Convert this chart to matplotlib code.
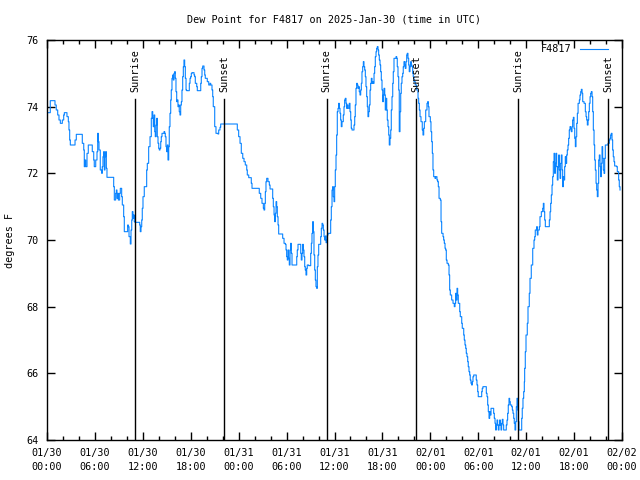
import matplotlib
matplotlib.use('Agg')
import matplotlib.pyplot as plt

# dew point readings, hours since 2025-01-30 00:00 UTC
hours = [
    0.16, 0.41, 0.41, 0.91, 1.00, 1.16, 1.34, 1.50, 1.67, 1.84, 1.92, 2.09, 2.17, 2.42, 2.50, 2.67,
    2.75, 2.84, 2.92, 3.42, 3.51, 3.67, 4.35, 4.42, 4.60, 4.67, 4.76, 4.85, 5.01, 5.17, 5.60, 5.67,
    5.85, 5.92, 6.10, 6.26, 6.35, 6.42, 6.51, 6.67, 6.85, 6.92, 7.01, 7.10, 7.18, 7.26, 7.35, 7.43,
    7.51, 8.26, 8.35, 8.43, 8.60, 8.68, 8.76, 8.85, 8.93, 9.10, 9.18, 9.35, 9.43, 9.60, 9.68, 10.02,
    10.10, 10.18, 10.27, 10.43, 10.52, 10.61, 10.68, 10.77, 10.85, 10.93, 11.02, 11.43, 11.61, 11.68,
    11.77, 11.86, 11.93, 12.02, 12.18,
    12.48, 12.56, 12.73, 12.90, 13.06, 13.15, 13.24, 13.31, 13.40, 13.49, 13.56, 13.65, 13.74, 13.81,
    13.90, 13.99, 14.06, 14.15, 14.24, 14.31, 14.40, 14.65, 14.74, 14.81, 14.90, 14.99, 15.06, 15.15,
    15.24, 15.31, 15.40, 15.49, 15.56, 15.65, 15.74, 15.81, 15.90, 15.99, 16.06, 16.15, 16.24, 16.31,
    16.40, 16.49, 16.56, 16.65, 16.74, 16.82, 16.90, 16.99, 17.07, 17.15, 17.24, 17.32, 17.41, 17.49,
    17.74, 17.82, 17.91, 17.99, 18.07, 18.16, 18.32, 18.41, 18.49, 18.57, 18.75, 18.82, 19.16, 19.25,
    19.32, 19.41, 19.50, 19.57, 19.66, 19.75, 19.82, 20.00, 20.07, 20.25, 20.41, 20.50, 20.66, 20.75,
    20.82, 21.00, 21.16, 21.41, 21.50, 21.66, 21.75, 23.75, 23.83, 24.00,
    24.17, 24.33, 24.51, 24.67, 24.83, 25.01, 25.08, 25.26, 25.51, 25.58, 25.67, 26.42, 26.58, 26.76,
    26.92, 27.09, 27.17, 27.26, 27.34, 27.42, 27.51, 27.67, 27.84, 27.93, 28.18, 28.26, 28.34, 28.43,
    28.51, 28.59, 28.68, 28.76, 28.84, 28.93, 29.01, 29.43, 29.51, 29.68, 29.84, 29.93, 30.01, 30.09,
    30.18, 30.26, 30.34, 30.43, 30.51, 30.59, 30.68, 31.18, 31.27, 31.34, 31.43, 31.68, 31.77, 31.84,
    31.93, 32.02, 32.09, 32.18, 32.27, 32.34, 32.43, 32.52, 32.59, 32.77, 32.93, 33.02, 33.10, 33.18,
    33.27, 33.35, 33.43, 33.52, 33.60, 33.68, 33.77, 33.85, 33.93, 34.02, 34.19, 34.27, 34.35, 34.44,
    34.52, 34.60, 34.69, 34.77, 34.85, 34.94, 35.02, 35.10, 35.19, 35.44, 35.52, 35.60, 35.69, 35.77,
    35.85, 35.94, 36.02, 36.10, 36.19, 36.27, 36.35, 36.44, 36.52,
    36.60, 36.69, 36.77, 36.85, 36.94, 37.10, 37.19, 37.27, 37.35, 37.44, 37.52, 37.60, 37.69, 37.85,
    37.94, 38.03, 38.10, 38.19, 38.35, 38.44, 38.53, 38.60, 38.69, 38.78, 38.85, 38.94, 39.03, 39.10,
    39.19, 39.28, 39.36, 39.44, 39.53, 39.61, 39.69, 39.78, 39.86, 39.94, 40.03, 40.11, 40.19, 40.28,
    40.36, 40.45, 40.53, 40.61, 40.70, 40.78, 40.86, 40.95, 41.03, 41.11, 41.20, 41.28, 41.36, 41.45,
    41.53, 41.61, 41.70, 41.78, 41.86, 41.95, 42.04, 42.11, 42.20, 42.29, 42.36, 42.45, 42.54, 42.61,
    42.70, 42.79, 42.86, 42.95, 43.04, 43.11, 43.20, 43.29, 43.36, 43.45, 43.61, 43.70, 43.79, 43.86,
    43.95, 44.04, 44.11, 44.20, 44.29, 44.36, 44.45, 44.54, 44.61, 44.70, 44.79, 44.86, 44.95, 45.04,
    45.11, 45.20, 45.29, 45.36, 45.45, 45.54, 45.61, 45.70, 45.79, 45.86, 45.95, 46.11, 46.29, 46.46,
    46.54, 46.62, 46.71,
    46.83, 46.99, 47.08, 47.17, 47.25, 47.42, 47.58, 47.67, 47.75, 47.83, 48.00, 48.08, 48.17, 48.25,
    48.33, 48.42, 48.58, 48.67, 48.83, 48.92, 49.00, 49.09, 49.25, 49.34, 49.42, 49.59, 49.67, 49.75,
    49.84, 49.92, 50.00, 50.09, 50.25, 50.34, 50.42, 50.50, 50.67, 50.84, 51.00, 51.09, 51.17, 51.25,
    51.34, 51.42, 51.50, 51.68, 51.75, 51.93, 52.00, 52.18, 52.25, 52.34, 52.43, 52.50, 52.59, 52.68,
    52.75, 52.84, 52.93, 53.00, 53.09, 53.18, 53.25, 53.34, 53.43, 53.68, 53.75, 53.84, 53.93, 54.00,
    54.34, 54.43, 54.50, 54.59, 54.93, 55.01, 55.10, 55.18, 55.26, 55.35, 55.43, 55.51, 55.60, 55.85,
    55.93, 56.01, 56.10, 56.18, 56.26, 56.35, 56.43, 56.51, 56.60, 56.68, 56.76, 56.85, 56.93, 57.01,
    57.10, 57.18, 57.43, 57.51, 57.60, 57.68, 57.76, 57.85, 57.93, 58.01, 58.19, 58.27, 58.35, 58.44,
    58.51, 58.60, 58.69, 58.77, 58.85, 58.94, 59.01, 59.10, 59.35, 59.44, 59.51, 59.60, 59.69, 59.77,
    59.81, 59.89, 59.98, 60.14, 60.23, 60.39, 60.48, 60.64, 60.82, 60.98, 61.07, 61.14, 61.32, 61.39,
    61.48, 61.65, 61.73, 61.90, 62.07, 62.15, 62.23, 62.32, 62.40, 62.82, 62.90, 62.99, 63.07, 63.15,
    63.24, 63.32, 63.40, 63.49, 63.57, 63.65, 63.74, 63.82, 63.90, 63.99, 64.07, 64.15, 64.24, 64.32,
    64.40, 64.49, 64.57, 64.65, 64.74, 64.82, 64.90, 64.99, 65.07, 65.15, 65.24, 65.32, 65.40, 65.49,
    65.57, 65.65, 65.74, 65.82, 65.91, 65.99, 66.08, 66.16, 66.24, 66.33, 66.41, 66.50, 66.66, 66.74,
    66.83, 66.91, 67.00, 67.08, 67.25, 67.41, 67.50, 67.58, 67.66, 67.75, 67.83, 67.91, 68.00, 68.08,
    68.16, 68.25, 68.33, 68.41, 68.50, 68.58, 68.66, 68.75, 68.83, 68.91, 69.00, 69.08, 69.16, 69.25,
    69.33, 69.41, 69.50, 69.58, 69.66, 69.75, 69.83, 69.91, 70.16, 70.25, 70.41, 70.50, 70.58, 70.66,
    70.75, 70.83, 70.91, 71.00, 71.08, 71.33, 71.41, 71.58, 71.66, 71.75,
]
dewpoint = [
    73.82, 74.05, 74.18, 74.18, 74.05, 73.90, 73.75, 73.60, 73.50, 73.50, 73.60, 73.75, 73.82, 73.82, 73.70, 73.55,
    73.30, 73.00, 72.85, 72.85, 73.00, 73.17, 73.17, 72.90, 72.70, 72.20, 72.40, 72.20, 72.60, 72.85, 72.85, 72.65,
    72.40, 72.20, 72.40, 72.65, 73.20, 72.95, 72.70, 72.10, 72.00, 72.20, 72.50, 72.65, 72.10, 72.50, 72.65, 72.15,
    71.88, 71.88, 71.60, 71.20, 71.40, 71.50, 71.25, 71.40, 71.20, 71.40, 71.55, 71.30, 71.05, 70.70, 70.25, 70.25,
    70.45, 70.40, 70.10, 69.88, 70.30, 70.60, 70.85, 70.65, 70.75, 70.55, 70.53, 70.53, 70.45, 70.25,
    70.40, 70.60, 70.95, 71.30, 71.60,
    72.10, 72.30, 72.80, 73.10, 73.65, 73.85, 73.65, 73.40, 73.75, 73.25, 73.10, 73.45, 73.65, 73.10,
    72.90, 72.75, 72.70, 72.75, 72.95, 73.10, 73.20, 73.25, 73.20, 73.10, 72.80, 72.65, 72.85, 72.40,
    72.80, 73.40, 73.80, 74.20, 74.50, 74.85, 74.95, 74.80, 75.00, 75.05, 74.85, 74.45, 74.15, 74.20,
    74.00, 74.05, 73.85, 73.75, 74.05, 74.15, 74.50, 74.90, 75.20, 75.40, 75.20, 74.85, 74.50, 74.48,
    74.48, 74.70, 74.85, 74.90, 75.00, 75.02, 75.02, 74.95, 74.90, 74.70, 74.60, 74.48, 74.48, 74.70,
    74.90, 75.15, 75.22, 75.22, 75.10, 74.95, 74.85, 74.85, 74.75, 74.65, 74.70, 74.65, 74.50, 74.30,
    74.00, 73.40, 73.20, 73.18, 73.30, 73.38, 73.48, 73.48, 73.30, 73.10,
    72.90, 72.60, 72.45, 72.35, 72.25, 72.10, 71.95, 71.87, 71.87, 71.70, 71.55, 71.55, 71.40, 71.25,
    71.10, 70.95, 70.90, 71.10, 71.45, 71.75, 71.85, 71.75, 71.65, 71.53, 71.53, 71.25, 71.00, 70.75,
    70.55, 70.80, 71.15, 71.00, 70.70, 70.45, 70.18, 70.18, 70.05, 69.90, 69.87, 69.70, 69.50, 69.40,
    69.70, 69.45, 69.25, 69.70, 69.90, 69.60, 69.25, 69.25, 69.50, 69.70, 69.87, 69.87, 69.60, 69.40,
    69.60, 69.87, 69.70, 69.50, 69.20, 69.10, 68.95, 69.15, 69.25, 69.23, 69.23, 69.60, 69.90, 70.20,
    70.55, 70.25, 69.55, 69.10, 68.80, 68.60, 68.55, 69.20, 69.55, 69.87, 69.87, 70.10, 70.35, 70.50,
    70.45, 70.30, 70.10, 70.00, 70.12, 69.92, 70.00, 70.15, 70.20, 70.20, 70.60, 71.00, 71.50, 71.60,
    71.30, 71.15, 71.60, 72.10, 72.55, 73.15, 73.85, 73.95, 74.10,
    73.95, 73.80, 73.60, 73.40, 73.55, 73.75, 74.00, 74.20, 74.25, 74.10, 73.95, 74.05, 73.95, 74.10,
    73.85, 73.60, 73.35, 73.30, 73.30, 73.45, 73.70, 74.05, 74.55, 74.70, 74.65, 74.55, 74.60, 74.45,
    74.35, 74.50, 74.70, 75.05, 75.20, 75.35, 75.20, 75.10, 74.90, 74.60, 74.30, 74.00, 73.70, 73.85,
    74.05, 74.50, 74.70, 74.85, 74.70, 74.75, 74.70, 75.00, 75.20, 75.50, 75.65, 75.75, 75.80, 75.70,
    75.55, 75.40, 75.25, 75.05, 74.80, 74.50, 74.15, 74.35, 74.55, 74.35, 73.90, 74.25, 73.90, 73.60,
    73.40, 73.15, 72.85, 73.05, 73.30, 73.90, 74.30, 74.70, 75.05, 75.45, 75.45, 75.50, 75.45, 75.20,
    74.90, 74.50, 73.25, 73.85, 74.40, 74.70, 74.90, 75.00, 75.20, 75.35, 75.25, 75.15, 75.35, 75.55,
    75.60, 75.45, 75.25, 75.05, 75.20, 75.35, 75.25, 75.20, 75.00, 74.90, 74.75, 74.65, 74.50, 74.25,
    74.10, 73.90, 73.70,
    73.55, 73.30, 73.15, 73.35, 73.55, 73.90, 74.10, 74.15, 74.00, 73.70, 73.55, 73.25, 72.95, 72.60,
    72.10, 71.90, 71.85, 71.90, 71.80, 71.75, 71.60, 71.25, 71.20, 70.55, 70.20, 70.10, 70.00, 69.90,
    69.75, 69.70, 69.40, 69.30, 69.25, 68.95, 68.50, 68.35, 68.20, 68.10, 68.00, 68.10, 68.40, 68.20,
    68.55, 68.35, 68.10, 67.85, 67.70, 67.50, 67.35, 67.15, 67.00, 66.85, 66.75, 66.60, 66.50, 66.35,
    66.20, 66.05, 65.95, 65.80, 65.70, 65.65, 65.75, 65.90, 65.95, 65.95, 65.80, 65.65, 65.45, 65.30,
    65.30, 65.45, 65.55, 65.60, 65.60, 65.40, 65.30, 65.05, 64.85, 64.65, 64.85, 64.75, 64.95, 64.95,
    64.80, 64.65, 64.50, 64.30, 64.45, 64.60, 64.45, 64.30, 64.45, 64.60, 64.45, 64.30, 64.50, 64.62,
    64.45, 64.30, 64.30, 64.45, 64.60, 64.80, 65.05, 65.25, 65.15, 65.05, 65.00, 64.90, 64.80, 64.65,
    64.50, 64.30, 64.55, 65.00, 65.25, 64.90, 64.55, 64.30, 64.30, 64.65, 64.95, 65.25, 65.45, 65.75,
    66.15, 66.65, 67.15, 67.50, 68.00, 68.40, 68.85, 69.25, 69.75, 70.00, 70.10, 70.30, 70.40, 70.15,
    70.30, 70.40, 70.70, 70.85, 70.95, 71.10, 70.85, 70.60, 70.40, 70.40, 70.60, 70.85, 71.10, 71.35,
    71.65, 71.90, 72.35, 72.60, 72.00, 72.30, 72.60, 72.20, 71.80, 72.20, 72.55, 72.10, 71.85, 72.30,
    72.55, 72.10, 71.60, 71.90, 71.80, 72.20, 72.50, 72.30, 72.55, 72.70, 72.85, 73.05, 73.30, 73.40,
    73.35, 73.25, 73.40, 73.60, 73.68, 73.35, 73.05, 72.80, 73.10, 73.50, 73.80, 74.10, 74.20, 74.35,
    74.45, 74.52, 74.40, 74.15, 74.10, 73.85, 73.70, 73.60, 73.45, 73.60, 73.85, 74.10, 74.30, 74.40,
    74.45, 74.30, 73.85, 73.30, 72.85, 72.40, 72.10, 71.70, 71.50, 71.30, 71.70, 72.40, 72.55, 72.20,
    71.90, 72.30, 72.80, 72.45, 72.10, 72.00, 72.45, 72.85, 72.85, 72.90, 73.00, 73.05, 73.15, 73.20,
    73.00, 72.70, 72.50, 72.35, 72.22, 72.20, 72.05, 71.80, 71.60, 71.50,
]

sunrise_hours = [11.03, 35.00, 58.98]
sunset_hours = [22.18, 46.19, 70.24]

tick_hours = list(range(0, 73, 6))
tick_labels = ['01/30\n00:00', '01/30\n06:00', '01/30\n12:00', '01/30\n18:00',
               '01/31\n00:00', '01/31\n06:00', '01/31\n12:00', '01/31\n18:00',
               '02/01\n00:00', '02/01\n06:00', '02/01\n12:00', '02/01\n18:00',
               '02/02\n00:00']
y_ticks = [64, 66, 68, 70, 72, 74, 76]

plt.rcParams['font.family'] = 'DejaVu Sans Mono'
plt.rcParams['font.size'] = 7.3

fig = plt.figure(figsize=(6.4, 4.8), dpi=100)
ax = fig.add_axes([47 / 640, 40 / 480, 575 / 640, 400 / 480])

# readings are quantized, so draw them as steps like the original logger plot
ax.plot(hours, dewpoint, color='#0a84ff', linewidth=0.8, drawstyle='steps-post',
        label='F4817')

for h in sunrise_hours:
    ax.axvline(h, ymin=0, ymax=0.853, color='black', linewidth=1.0)
    ax.text(h, 0.87, 'Sunrise', rotation=90, ha='center', va='bottom',
            transform=ax.get_xaxis_transform())
for h in sunset_hours:
    ax.axvline(h, ymin=0, ymax=0.853, color='black', linewidth=1.0)
    ax.text(h, 0.87, 'Sunset', rotation=90, ha='center', va='bottom',
            transform=ax.get_xaxis_transform())

ax.set_xlim(0, 72)
ax.set_ylim(64, 76)
ax.set_xticks(tick_hours)
ax.set_xticklabels(tick_labels, linespacing=1.45)
ax.set_xticks(range(0, 73, 2), minor=True)
ax.set_yticks(y_ticks)
ax.tick_params(which='both', direction='in', top=True, right=True, width=1.0)
ax.tick_params(which='major', length=6, pad=6)
ax.tick_params(which='minor', length=3)
for s in ax.spines.values():
    s.set_linewidth(1.0)

fig.text(334 / 640, 1 - 20 / 480, 'Dew Point for F4817 on 2025-Jan-30 (time in UTC)',
         ha='center', va='center')
fig.text(10 / 640, 0.5, 'degrees F', rotation=90, ha='center', va='center')

ax.legend(loc='upper right', bbox_to_anchor=(1 - 7 / 575, 1 + 3 / 400), frameon=False,
          markerfirst=False, handlelength=2.8, borderaxespad=0.3, handletextpad=0.8)

plt.savefig('out.png', dpi=100)
